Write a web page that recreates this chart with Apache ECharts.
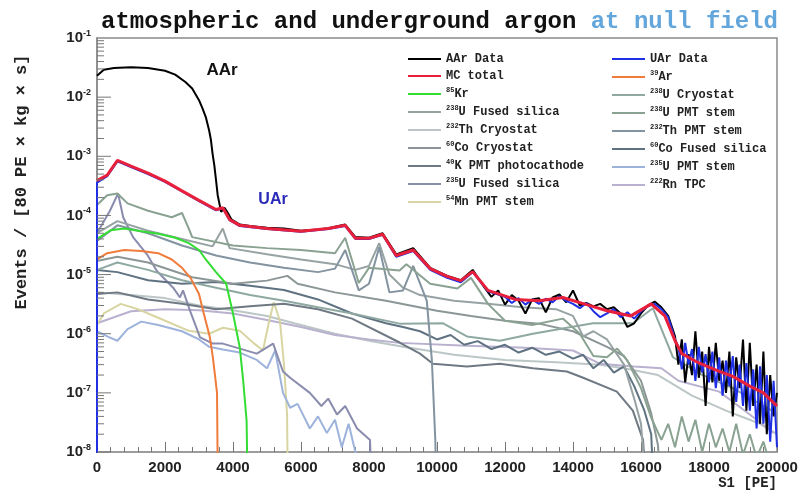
<!DOCTYPE html>
<html><head><meta charset="utf-8">
<script src="https://cdn.jsdelivr.net/npm/echarts@6/dist/echarts.min.js"></script>
<style>html,body{margin:0;padding:0;background:#fff}#c{width:805px;height:500px}</style>
</head><body><div id="c"></div>
<script>
// ---- tick labels ----
const xTickValues = [0,2000,4000,6000,8000,10000,12000,14000,16000,18000,20000];
const yTickExponents = [-8,-7,-6,-5,-4,-3,-2,-1];

// ---- series data: [S1 (PE), events / (80 PE x kg x s)] ----
const aarData = [[0,2.3e-2],[200,2.9e-2],[500,3.1e-2],[1000,3.2e-2],[1500,3.1e-2],[2000,2.8e-2],[2300,2.4e-2],[2600,1.8e-2],[2800,1.4e-2],[3000,8.9e-3],[3100,6.5e-3],[3200,4.6e-3],[3300,2.7e-3],[3350,1.9e-3],[3400,1.1e-3],[3450,7.1e-4],[3500,4e-4],[3550,2.2e-4],[3650,1.15e-4],[3750,1.35e-4],[3850,1.1e-4],[3950,8.6e-5],[4200,7e-5],[4500,6.6e-5],[5000,6.2e-5],[5500,6.0e-5],[6000,5.5e-5],[6500,5.8e-5],[6800,6.1e-5],[7300,7.0e-5],[7600,4.3e-5],[8000,4.2e-5],[8400,5.0e-5],[8800,2.2e-5],[9300,2.8e-5],[9800,1.3e-5],[10300,9.5e-6],[10700,8e-6],[11050,1.2e-5],[11400,6e-6],[11600,4.2e-6],[11800,5.4e-6],[12000,3.1e-6],[12200,4.5e-6],[12400,3.6e-6],[12600,2.2e-6],[12800,3.8e-6],[13000,4.0e-6],[13200,2.3e-6],[13400,4.1e-6],[13600,4.6e-6],[13800,3.4e-6],[14000,5.4e-6],[14200,3.0e-6],[14400,3.3e-6],[14600,2.9e-6],[14800,3.2e-6],[15000,2.6e-6],[15200,2.8e-6],[15400,2.2e-6],[15600,1.3e-6],[15800,1.5e-6],[16000,2.2e-6],[16200,3.0e-6],[16400,3.5e-6],[16600,2.8e-6],[16800,2.0e-6],[17000,9e-7],[17100,3e-7],[17200,8e-7],[17300,1.5e-7],[17400,4.5e-7],[17500,2e-7],[17600,1.1e-6],[17700,1.8e-7],[17800,5e-7],[17900,6e-8],[18000,6e-7],[18100,1.5e-7],[18200,7e-7],[18300,1.6e-7],[18400,3.5e-7],[18500,1e-7],[18600,5e-7],[18700,4e-8],[18800,4e-7],[18900,1.2e-7],[19000,8e-7],[19100,5e-8],[19200,7e-7],[19300,6e-8],[19400,3e-7],[19500,3e-8],[19600,5e-7],[19700,2e-8],[19800,2e-7],[19900,4e-8],[20000,1e-7]];
const uarData = [[0,1e-9],[0,3.6e-4],[300,4.6e-4],[600,8.2e-4],[1000,6.6e-4],[1500,5.0e-4],[2000,3.7e-4],[2500,2.55e-4],[3000,1.75e-4],[3500,1.22e-4],[3700,1.32e-4],[3900,8.3e-5],[4200,6.6e-5],[5000,5.9e-5],[6000,5.3e-5],[6800,5.9e-5],[7300,6.6e-5],[7600,4.0e-5],[8000,4.0e-5],[8400,4.7e-5],[8800,2.0e-5],[9300,2.5e-5],[9800,1.2e-5],[10300,8.8e-6],[10700,7.4e-6],[11050,1.1e-5],[11500,5.2e-6],[12000,4.2e-6],[12200,3.3e-6],[12400,4.0e-6],[12600,3.1e-6],[12800,3.8e-6],[13000,3.2e-6],[13200,3.9e-6],[13400,3.4e-6],[13600,4.3e-6],[13800,3.6e-6],[14000,3.2e-6],[14200,2.7e-6],[14400,3.3e-6],[14600,2.4e-6],[14800,1.9e-6],[15000,2.2e-6],[15200,2.6e-6],[15400,1.9e-6],[15600,2.3e-6],[15800,1.8e-6],[16000,2.4e-6],[16200,2.9e-6],[16400,3.2e-6],[16600,2.6e-6],[16800,1.9e-6],[17000,8e-7],[17100,6e-7],[17200,2.5e-7],[17300,7e-7],[17400,3e-7],[17500,5.5e-7],[17600,1.6e-7],[17700,6e-7],[17800,2.2e-7],[17900,4.5e-7],[18000,1.5e-7],[18100,5e-7],[18200,1.2e-7],[18300,4e-7],[18400,9e-8],[18500,3.5e-7],[18600,1.3e-7],[18700,4.2e-7],[18800,7e-8],[18900,3e-7],[19000,6e-8],[19100,3.2e-7],[19200,5e-8],[19300,2.5e-7],[19400,2.5e-8],[19500,2.8e-7],[19600,3e-8],[19700,2e-7],[19800,1.5e-8],[19900,1.6e-7],[20000,1.2e-8]];
const mcTotal = [[0,3.9e-4],[300,4.8e-4],[600,8.5e-4],[1000,6.8e-4],[1500,5.2e-4],[2000,3.8e-4],[2500,2.6e-4],[3000,1.8e-4],[3500,1.26e-4],[3700,1.35e-4],[3900,8.5e-5],[4200,6.8e-5],[5000,6e-5],[6000,5.4e-5],[6800,6e-5],[7300,6.8e-5],[7600,4.1e-5],[8000,4.1e-5],[8400,4.8e-5],[8800,2.1e-5],[9300,2.6e-5],[9800,1.26e-5],[10300,9.3e-6],[10700,7.9e-6],[11050,1.12e-5],[11500,5.4e-6],[12300,3.8e-6],[13000,3.6e-6],[13700,4.1e-6],[14400,3.1e-6],[15000,2.45e-6],[15700,2.0e-6],[16300,3.2e-6],[16700,2.0e-6],[17000,7.6e-7],[17200,4.6e-7],[17700,3.2e-7],[18300,2.3e-7],[18700,1.9e-7],[19200,1.3e-7],[19600,1e-7],[20000,6e-8]];
const ar39 = [[0,1.8e-5],[300,2.3e-5],[800,2.6e-5],[1300,2.5e-5],[1800,2.3e-5],[2200,1.8e-5],[2500,1.3e-5],[2750,8.8e-6],[3000,4.7e-6],[3120,2.45e-6],[3320,8.7e-7],[3410,3.9e-7],[3530,1e-7],[3560,1e-9]];
const kr85 = [[0,4e-5],[400,5.6e-5],[800,6e-5],[1300,5.4e-5],[1800,4.9e-5],[2300,4.2e-5],[2700,3.4e-5],[3000,2.6e-5],[3200,1.8e-5],[3500,1.1e-5],[3800,7e-6],[4000,2.2e-6],[4200,5.8e-7],[4300,1.6e-7],[4400,3.4e-8],[4440,1e-9]];
const u238Cryostat = [[0,1.2e-5],[600,1.6e-5],[1500,1.2e-5],[2500,8e-6],[3500,6e-6],[4500,4.5e-6],[5500,3.6e-6],[6500,2.8e-6],[7500,2.2e-6],[8900,1.48e-6],[10180,1.5e-6],[10880,9e-7],[11850,7.6e-7],[12820,1.0e-6],[13820,1.26e-6],[14590,1.5e-6],[15760,1.5e-6],[16350,2.7e-6],[16940,4e-7],[17735,2.1e-7],[18700,1.2e-7],[19700,5.6e-8],[20000,4.5e-8]];
const u238FusedSilica = [[0,5e-5],[600,8e-5],[1500,5.5e-5],[2500,4e-5],[3400,3e-5],[3700,6e-5],[3900,2.8e-5],[5000,2.2e-5],[6000,1.8e-5],[7000,1.5e-5],[7600,1.2e-5],[8000,1.4e-5],[8300,3.4e-5],[8600,1e-5],[9000,6e-6],[9500,4.5e-6],[10500,3.6e-6],[11500,3.2e-6],[12500,2.8e-6],[13500,2.6e-6],[14000,2.0e-6],[14300,9e-7],[14600,1.1e-6],[15000,8e-7],[15500,3e-7],[15800,8e-8],[16000,3e-8],[16200,1e-9]];
const u238PmtStem = [[0,1.5e-4],[300,2.2e-4],[600,2.35e-4],[900,1.6e-4],[1500,1.2e-4],[2200,9.3e-5],[2500,1.1e-4],[2700,6e-5],[2800,4.3e-5],[4000,3.1e-5],[5000,2.8e-5],[6000,2.6e-5],[7000,2.3e-5],[7300,4.2e-5],[7700,7.2e-6],[8000,1.3e-5],[8900,1.17e-5],[9100,1.5e-5],[9800,7e-6],[10600,5.8e-6],[11000,8.8e-6],[11500,3.2e-6],[12000,1.66e-6],[12800,1.4e-6],[13700,1.8e-6],[14200,1.0e-6],[14600,4.2e-7],[15000,4.0e-7],[15300,5.6e-7],[15600,3.5e-7],[16000,1.2e-7],[16300,3.8e-8],[16600,1.6e-8],[16800,3e-8],[17000,1.2e-8],[17200,4e-8],[17400,1.5e-8],[17600,3.5e-8],[17800,1e-8],[18000,3e-8],[18200,1.2e-8],[18400,2.5e-8],[18600,1e-8],[18800,3e-8],[19000,9e-9],[19200,2e-8],[19400,8e-9],[19600,1.5e-8],[19800,6e-9]];
const th232Cryostat = [[0,5e-6],[1000,4.5e-6],[2000,4e-6],[3000,3e-6],[4000,2.5e-6],[5000,2e-6],[5800,1.5e-6],[7000,1.0e-6],[8000,7.6e-7],[9000,6e-7],[10500,4.4e-7],[12000,3.6e-7],[13500,3.3e-7],[14800,3e-7],[15500,2.6e-7],[16500,2e-7],[17500,9e-8],[18500,5e-8],[19500,3e-8],[20000,2e-8]];
const th232PmtStem = [[0,3.7e-5],[600,6.8e-5],[1500,5e-5],[2500,3.1e-5],[3500,2.1e-5],[4500,1.6e-5],[5500,1.3e-5],[6500,1.1e-5],[7000,1.26e-5],[7300,2.6e-5],[7700,5.4e-6],[8000,7e-6],[8300,2.9e-5],[8600,5e-6],[9000,5.4e-6],[9300,1.4e-5],[9700,3.6e-6],[9850,3.5e-7],[9950,1.6e-8],[10000,1e-9]];
const co60Cryostat = [[0,1.7e-5],[600,2e-5],[1500,1.6e-5],[2800,9e-6],[4000,7e-6],[5000,7.9e-6],[5600,9.5e-6],[5900,7e-6],[7000,5e-6],[8500,3.6e-6],[10000,2.45e-6],[11000,2.0e-6],[12000,1.66e-6],[13000,1.48e-6],[14000,1.1e-6],[15000,6e-7],[15500,4.2e-7],[16000,1.6e-7],[16300,4.5e-8],[16500,1.3e-8],[16600,1e-9]];
const co60FusedSilica = [[0,1.2e-5],[600,1.1e-5],[1500,8e-6],[2500,7e-6],[3500,7.5e-6],[4500,6.5e-6],[5500,5.5e-6],[6500,3.8e-6],[7500,2.2e-6],[8500,1.5e-6],[9000,1.3e-6],[9500,1.1e-6],[10000,8e-7],[10400,9.5e-7],[10800,6.5e-7],[11200,7.5e-7],[11600,5.5e-7],[12000,6.5e-7],[12400,4.8e-7],[12800,5.8e-7],[13200,4.4e-7],[13600,5e-7],[14000,3.8e-7],[14300,4.4e-7],[14600,2.6e-7],[14900,3.6e-7],[15200,2.2e-7],[15500,2.8e-7],[15800,1.3e-7],[16100,5e-8],[16300,2e-8],[16400,1e-9]];
const k40Photocathode = [[0,4.7e-6],[600,5e-6],[1500,3.8e-6],[2500,3.2e-6],[3500,2.6e-6],[4500,2.9e-6],[5500,3.2e-6],[6500,2.6e-6],[7500,1.8e-6],[8900,7.1e-7],[9500,4.6e-7],[9880,3.1e-7],[10880,2.8e-7],[11850,3.1e-7],[12820,2.6e-7],[13820,2.3e-7],[14300,1.8e-7],[15290,1.05e-7],[15760,5e-8],[16060,1.6e-8],[16200,1e-9]];
const u235PmtStem = [[0,1.1e-6],[300,9e-7],[600,7.6e-7],[900,1.2e-6],[1300,1.6e-6],[1800,1.4e-6],[2500,1.1e-6],[3000,8e-7],[3300,6e-7],[3700,5.4e-7],[4200,4.8e-7],[4700,3.6e-7],[5000,2.6e-7],[5240,5.2e-7],[5470,1e-7],[5680,5.6e-8],[5900,6.5e-8],[6260,2.5e-8],[6500,4e-8],[6760,2.1e-8],[7000,3.5e-8],[7200,1.2e-8],[7400,3e-8],[7600,1e-8],[7700,1e-9]];
const u235FusedSilica = [[0,5e-5],[380,1.2e-4],[620,2.35e-4],[770,9.3e-5],[1060,4.3e-5],[1470,2.2e-5],[1760,1.15e-5],[2240,6e-6],[2440,4.1e-6],[2530,5.4e-6],[2735,2.45e-6],[3030,8.7e-7],[3410,6.8e-7],[3700,6.8e-7],[4700,4.6e-7],[5180,6.8e-7],[5470,2.3e-7],[5680,1.8e-7],[6260,1e-7],[6600,6e-8],[6800,8e-8],[7060,4.3e-8],[7300,6e-8],[7650,2.5e-8],[8030,1.6e-8],[8100,1e-9]];
const rn222Tpc = [[0,1.5e-6],[1000,2.4e-6],[2000,2.6e-6],[3000,2.5e-6],[4000,2.2e-6],[5000,1.7e-6],[6000,1.3e-6],[7000,9.5e-7],[8000,8e-7],[8900,7e-7],[10700,6.3e-7],[12600,5.8e-7],[14000,5.2e-7],[14800,3.1e-7],[15800,2.8e-7],[16600,2.6e-7],[17100,1.6e-7],[18300,1.05e-7],[19200,4.3e-8],[19900,2.1e-8]];
const mn54PmtStem = [[0,1.4e-6],[200,2.2e-6],[700,3.2e-6],[1200,2.6e-6],[1800,1.86e-6],[2700,1.12e-6],[3300,1.0e-6],[3700,1.26e-6],[4200,1.12e-6],[4600,7e-7],[4880,5.2e-7],[5050,1.5e-6],[5200,3.4e-6],[5380,1.66e-6],[5500,3e-7],[5590,4.3e-8],[5620,1e-9]];

const legendLeft = ['AAr Data','MC total','85Kr','238U Fused silica','232Th Cryostat','60Co Cryostat','40K PMT photocathode','235U Fused silica','54Mn PMT stem'];
const legendRight = ['UAr Data','39Ar','238U Cryostat','238U PMT stem','232Th PMT stem','60Co Fused silica','235U PMT stem','222Rn TPC'];

const chart = echarts.init(document.getElementById('c'), null, {renderer:'canvas'});

function line(name, data, color, width, z) {
  return {name, type:'line', data, color, showSymbol:false, symbol:'none', clip:true,
    lineStyle:{color, width}, z: z||2, animation:false, emphasis:{disabled:true}};
}

const series = [
  line('232Th Cryostat', th232Cryostat, '#bcc6c6', 2),
  line('222Rn TPC', rn222Tpc, '#b9b1cf', 2),
  line('54Mn PMT stem', mn54PmtStem, '#d8d5a2', 2),
  line('235U PMT stem', u235PmtStem, '#9db3dc', 2),
  line('235U Fused silica', u235FusedSilica, '#8a8cae', 2),
  line('40K PMT photocathode', k40Photocathode, '#6f7984', 2),
  line('60Co Fused silica', co60FusedSilica, '#5f7282', 2),
  line('60Co Cryostat', co60Cryostat, '#8c9696', 2),
  line('238U Cryostat', u238Cryostat, '#8fa9a2', 2),
  line('238U Fused silica', u238FusedSilica, '#97a2a2', 2),
  line('232Th PMT stem', th232PmtStem, '#8393a0', 2),
  line('238U PMT stem', u238PmtStem, '#8aa292', 2),
  line('39Ar', ar39, '#f07c3c', 2),
  line('85Kr', kr85, '#33dd33', 2),
  line('AAr Data', aarData, '#000000', 2, 3),
  line('UAr Data', uarData, '#1f2fe6', 2, 3),
  line('MC total', mcTotal, '#e8203c', 3, 4)
];

// ROOT-style log minor ticks on the y axis (1..9 within each decade)
const yMinorTicks = [];
for (const e of yTickExponents) { if (e === -1) continue; for (let m = 1; m <= 9; m++) yMinorTicks.push([0, m * Math.pow(10, e)]); }
series.push({
  type:'custom', name:'yticks', data:yMinorTicks, silent:true, z:5, clip:false,
  renderItem:(params, api) => {
    const v = api.value(1);
    const p = api.coord([0, v]);
    const isMajor = Math.abs(Math.log10(v) - Math.round(Math.log10(v))) < 1e-9;
    const len = isMajor ? 14 : 7;
    return {type:'line', shape:{x1:p[0], y1:p[1], x2:p[0]+len, y2:p[1]}, style:{stroke:'#777', lineWidth:1}};
  }
});

function legendFmt(name) {
  const m = name.match(/^(\d+)(.*)$/);
  return m ? '{s|' + m[1] + '}{t|' + m[2] + '}' : '{t|' + name + '}';
}
const legendText = {
  rich: {
    t:{fontFamily:'Liberation Mono', fontWeight:'bold', fontSize:12, color:'#222', lineHeight:14},
    s:{fontFamily:'Liberation Mono', fontWeight:'bold', fontSize:7, color:'#222', verticalAlign:'top', lineHeight:9}
  }
};
function legend(data, left) {
  return {data, left, top:53, orient:'vertical', icon:'rect', itemWidth:33, itemHeight:2,
    itemGap:5, formatter:legendFmt, textStyle:legendText, selectedMode:false, padding:0};
}

chart.setOption({
  animation:false,
  backgroundColor:'#fff',
  title:{
    text:'{a|atmospheric and underground argon }{b|at null field}',
    left:96, top:5,
    textStyle:{rich:{
      a:{fontFamily:'Liberation Mono', fontWeight:'bold', fontSize:24, color:'#111'},
      b:{fontFamily:'Liberation Mono', fontWeight:'bold', fontSize:24, color:'#62a6dc'}
    }}
  },
  legend:[legend(legendLeft, 408), legend(legendRight, 612)],
  grid:{left:97, right:28, top:38, bottom:48, show:true, borderColor:'#8a8a8a', borderWidth:1.5, backgroundColor:'transparent'},
  xAxis:{
    type:'value', min:0, max:20000, interval:2000,
    name:'S1 [PE]', nameLocation:'end', nameGap:0,
    nameTextStyle:{fontFamily:'Liberation Mono', fontWeight:'bold', fontSize:14, color:'#222', align:'right', verticalAlign:'top', padding:[24,0,0,0]},
    axisLine:{show:true, lineStyle:{color:'#999', width:1.5}},
    axisTick:{show:true, inside:true, length:10, lineStyle:{color:'#777'}},
    minorTick:{show:true, splitNumber:5, length:5, lineStyle:{color:'#777'}},
    splitLine:{show:false},
    axisLabel:{margin:8, fontFamily:'Liberation Sans', fontWeight:'bold', fontSize:15, color:'#222',
      formatter:(v) => xTickValues.includes(v) ? String(v) : ''}
  },
  yAxis:{
    type:'log', logBase:10, min:1e-8, max:1e-1,
    axisLine:{show:true, lineStyle:{color:'#8a8a8a', width:1.5}},
    axisTick:{show:false},
    splitLine:{show:false},
    axisLabel:{margin:6,
      formatter:(v) => { const e = Math.round(Math.log10(v)); return yTickExponents.includes(e) ? '{b|10}{s|' + e + '}' : ''; },
      rich:{
        b:{fontFamily:'Liberation Sans', fontWeight:'bold', fontSize:15, color:'#222', lineHeight:18},
        s:{fontFamily:'Liberation Sans', fontWeight:'bold', fontSize:9, color:'#222', verticalAlign:'top', lineHeight:10}
      }
    }
  },
  graphic:[
    {type:'text', x:22, y:182, rotation:Math.PI/2, style:{text:'Events / [80 PE × kg × s]', fontFamily:'Liberation Mono', fontWeight:'bold', fontSize:17, fill:'#222', align:'center', verticalAlign:'middle'}},
    {type:'text', x:222, y:70, style:{text:'AAr', fontFamily:'Liberation Sans', fontWeight:'bold', fontSize:17, fill:'#111', align:'center', verticalAlign:'middle'}},
    {type:'text', x:273, y:200, style:{text:'UAr', fontFamily:'Liberation Sans', fontWeight:'bold', fontSize:16, fill:'#2a2ab8', align:'center', verticalAlign:'middle'}}
  ],
  series
});
</script></body></html>
